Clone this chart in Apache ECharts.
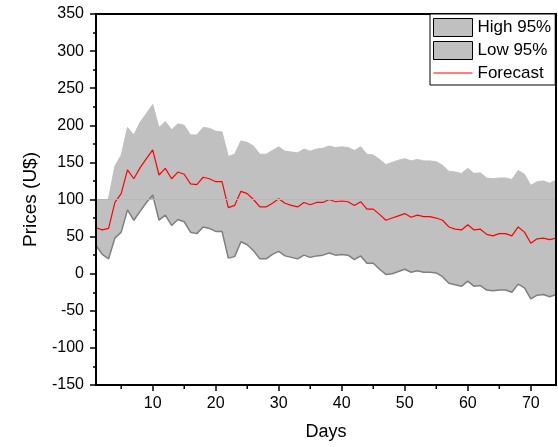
<!DOCTYPE html>
<html>
<head>
<meta charset="utf-8">
<script src="https://cdn.jsdelivr.net/npm/echarts@6/dist/echarts.min.js"></script>
<style>
  html, body { margin: 0; padding: 0; background: #fff; }
  #chart { width: 558px; height: 447px; }
</style>
</head>
<body>
<div id="chart"></div>
<script>
// Forecast horizon (days) and the 95% confidence band around the price forecast
const days = [];
for (let d = 1; d <= 74; d++) days.push(d);

const high95 = [86, 92, 102, 145, 160, 197, 187, 204, 216, 228,
  197, 205, 194, 202, 200, 187, 187, 197, 196, 192,
  191, 158, 161, 179, 177, 172, 161, 161, 166, 171,
  165, 164, 163, 168, 165, 168, 169, 172, 170, 171,
  170, 166, 171, 161, 160, 154, 147, 150, 153, 155,
  152, 154, 152, 152, 151, 146, 138, 137, 135, 142,
  135, 136, 129, 128, 129, 129, 127, 139, 134, 119,
  124, 125, 122, 126];

const forecast = [62, 59, 61, 96, 108, 140, 128, 143, 155, 167,
  133, 142, 128, 137, 134, 121, 120, 130, 128, 124,
  124, 89, 92, 111, 108, 100, 90, 90, 95, 101,
  95, 92, 90, 96, 93, 96, 96, 100, 97, 98,
  97, 92, 97, 87, 87, 80, 72, 75, 78, 81,
  76, 79, 77, 77, 75, 72, 63, 60, 59, 66,
  59, 60, 53, 51, 54, 54, 51, 63, 56, 41,
  47, 48, 46, 48];

const low95 = [38, 26, 20, 48, 56, 86, 72, 84, 96, 106,
  72, 79, 65, 73, 70, 56, 54, 63, 61, 57,
  57, 21, 23, 43, 39, 31, 20, 20, 26, 30,
  24, 22, 20, 25, 22, 24, 25, 28, 25, 26,
  25, 19, 24, 14, 14, 6, -1, 0, 3, 6,
  2, 4, 2, 2, 1, -4, -13, -15, -17, -10,
  -17, -16, -22, -23, -22, -22, -25, -14, -19, -34,
  -29, -28, -31, -28];

const xMajorTicks = [10, 20, 30, 40, 50, 60, 70];
const xMinorTicks = [5, 15, 25, 35, 45, 55, 65];
const Y_MIN = -150, Y_MAX = 350;

const pairs = vals => days.map((d, i) => [d, vals[i]]);

const FONT = '"Liberation Sans", Arial, sans-serif';
const BAND = '#c0c0c0';
// thin horizontal bar spanning the full legend icon box (39 x 18)
const LINE_ICON = 'path://M0,0 M0,8.4 L39,8.4 L39,9.6 L0,9.6 Z M39,18';

const chart = echarts.init(document.getElementById('chart'), null, { renderer: 'canvas' });

chart.setOption({
  animation: false,
  backgroundColor: '#fff',
  textStyle: { fontFamily: FONT },
  grid: {
    left: 96, right: 2, top: 14, bottom: 62, containLabel: false,
    show: true, borderColor: '#000', borderWidth: 2, backgroundColor: 'transparent'
  },
  legend: {
    orient: 'vertical',
    left: 430,
    top: 14,
    padding: [4, 4, 3, 3],
    itemGap: 4,
    itemWidth: 39,
    itemHeight: 18,
    backgroundColor: '#fff',
    borderColor: '#000',
    borderWidth: 1,
    borderRadius: 0,
    selectedMode: false,
    textStyle: { fontFamily: FONT, fontSize: 17, color: '#000' },
    data: [
      { name: 'High 95%', icon: 'rect', itemStyle: { color: BAND, borderColor: '#000', borderWidth: 1 } },
      { name: 'Low 95%', icon: 'rect', itemStyle: { color: BAND, borderColor: '#000', borderWidth: 1 } },
      { name: 'Forecast', icon: LINE_ICON, itemStyle: { color: '#ff0000', borderWidth: 0 } }
    ]
  },
  xAxis: {
    type: 'value', min: 1, max: 74, position: 'bottom', z: 10,
    name: 'Days', nameLocation: 'middle', nameGap: 38,
    nameTextStyle: { fontFamily: FONT, fontSize: 18, color: '#000' },
    axisLine: { show: true, onZero: false, lineStyle: { color: '#000', width: 2 } },
    axisTick: { show: true, customValues: xMajorTicks, length: 6, lineStyle: { color: '#000', width: 1.5 } },
    axisLabel: { show: true, customValues: xMajorTicks, margin: 11, fontFamily: FONT, fontSize: 16, color: '#000' },
    splitLine: { show: false }
  },
  yAxis: [
    {
      type: 'value', min: Y_MIN, max: Y_MAX, interval: 50, position: 'left', z: 10,
      name: 'Prices (U$)', nameLocation: 'middle', nameGap: 56,
      nameTextStyle: { fontFamily: FONT, fontSize: 19, color: '#000' },
      axisLine: { show: true, onZero: false, lineStyle: { color: '#000', width: 2 } },
      axisTick: { show: true, length: 6, lineStyle: { color: '#000', width: 1.5 } },
      minorTick: { show: true, splitNumber: 2, length: 3, lineStyle: { color: '#000', width: 1.5 } },
      axisLabel: { margin: 12, fontFamily: FONT, fontSize: 16, color: '#000' },
      splitLine: { show: false }
    },
    {
      // right-hand frame line
      type: 'value', min: Y_MIN, max: Y_MAX, position: 'right', z: 10,
      axisLine: { show: true, onZero: false, lineStyle: { color: '#000', width: 2 } },
      axisTick: { show: false },
      axisLabel: { show: false },
      splitLine: { show: false }
    }
  ],
  series: [
    {
      name: 'High 95%',
      type: 'line',
      xAxisIndex: 0, yAxisIndex: 0,
      data: pairs(high95),
      symbol: 'none',
      lineStyle: { color: BAND, width: 1 },
      itemStyle: { color: BAND },
      areaStyle: { color: BAND, opacity: 1, origin: 100 },
      markLine: {
        silent: true,
        symbol: 'none',
        label: { show: false },
        lineStyle: { color: '#b8b8b8', width: 1, type: 'solid' },
        data: [{ yAxis: 100 }]
      },
      z: 2
    },
    {
      name: 'Low 95%',
      type: 'line',
      xAxisIndex: 0, yAxisIndex: 0,
      data: pairs(low95),
      symbol: 'none',
      lineStyle: { color: '#7f7f7f', width: 1.5 },
      itemStyle: { color: BAND },
      areaStyle: { color: BAND, opacity: 1, origin: 100 },
      z: 3
    },
    {
      name: 'Forecast',
      type: 'line',
      xAxisIndex: 0, yAxisIndex: 0,
      data: pairs(forecast),
      symbol: 'none',
      lineStyle: { color: '#ff0000', width: 1.2 },
      itemStyle: { color: '#ff0000' },
      z: 4
    }
  ]
});

// Minor x ticks between the labelled days, placed through the grid's scales
const tickLines = [];
xMinorTicks.forEach(v => {
  const p = chart.convertToPixel({ gridIndex: 0 }, [v, Y_MIN]);
  if (p && isFinite(p[0]) && isFinite(p[1])) {
    tickLines.push({
      type: 'line',
      z: 100,
      silent: true,
      shape: { x1: p[0], y1: p[1], x2: p[0], y2: p[1] + 4 },
      style: { stroke: '#000', lineWidth: 1.5 }
    });
  }
});
chart.setOption({ graphic: { elements: tickLines } });
</script>
</body>
</html>
